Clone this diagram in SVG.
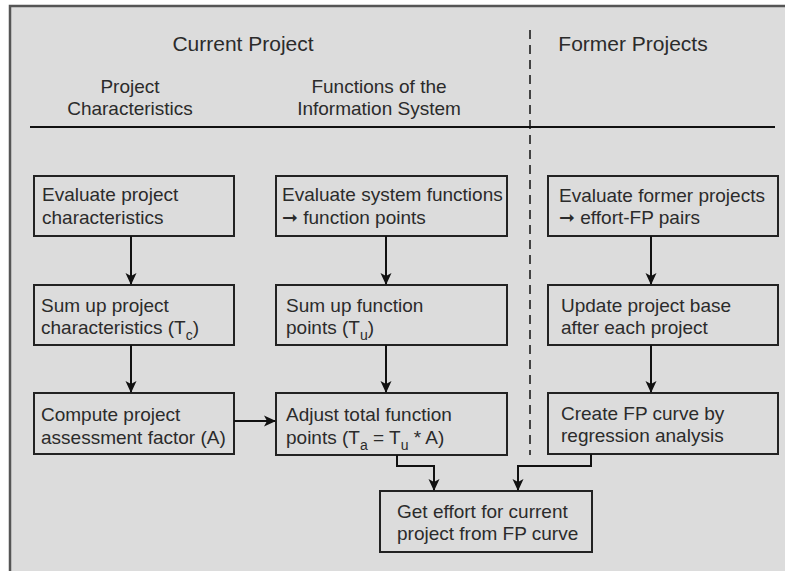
<svg xmlns="http://www.w3.org/2000/svg" width="785" height="571" viewBox="0 0 785 571">
  <style>
    .bg { fill: #dcdcdc; }
    .frame { fill: none; stroke: #555; stroke-width: 2.5; }
    .box { fill: #dcdcdc; stroke: #222; stroke-width: 2; }
    .t { font-family: "Liberation Sans", Arial, sans-serif; font-size: 19px; fill: #2b2b2b; }
    .h1 { font-family: "Liberation Sans", Arial, sans-serif; font-size: 21px; fill: #2b2b2b; }
    .sub { font-size: 14px; }
    .conn { fill: none; stroke: #111; stroke-width: 2; }
    .rule { stroke: #111; stroke-width: 1.8; }
    .dash { stroke: #111; stroke-width: 1.5; stroke-dasharray: 9 6; }
  </style>
  <defs>
    <marker id="arrow" viewBox="0 0 12 12" refX="11" refY="6" markerWidth="12" markerHeight="12" markerUnits="userSpaceOnUse" orient="auto">
      <path d="M0,0.5 L12,6 L0,11.5 L3,6 z" fill="#111"/>
    </marker>
  </defs>

  <rect x="0" y="0" width="785" height="571" fill="#ffffff"/>
  <rect class="bg" x="10" y="6" width="775" height="565"/>
  <path class="frame" d="M10,571 V6 H785"/>

  <!-- column headings -->
  <g id="headings">
    <text class="h1" x="243" y="51" text-anchor="middle">Current Project</text>
    <text class="h1" x="633" y="51" text-anchor="middle">Former Projects</text>
    <text class="t" x="130" y="93" text-anchor="middle">Project</text>
    <text class="t" x="130" y="115" text-anchor="middle">Characteristics</text>
    <text class="t" x="379" y="93" text-anchor="middle">Functions of the</text>
    <text class="t" x="379" y="115" text-anchor="middle">Information System</text>
    <line class="rule" x1="30" y1="127" x2="775" y2="127"/>
    <line class="dash" x1="530" y1="30" x2="530" y2="455"/>
  </g>

  <!-- left column -->
  <g id="eval-proj-char">
    <rect class="box" x="34" y="176" width="200" height="60"/>
    <text class="t" x="42" y="201">Evaluate project</text>
    <text class="t" x="42" y="224">characteristics</text>
  </g>
  <g id="sum-proj-char">
    <rect class="box" x="34" y="285" width="200" height="60"/>
    <text class="t" x="41" y="312">Sum up project</text>
    <text class="t" x="41" y="334">characteristics (T<tspan class="sub" dy="6">c</tspan><tspan dy="-6">)</tspan></text>
  </g>
  <g id="compute-factor">
    <rect class="box" x="34" y="393" width="200" height="61"/>
    <text class="t" x="41" y="421">Compute project</text>
    <text class="t" x="41" y="444">assessment factor (A)</text>
  </g>

  <!-- middle column -->
  <g id="eval-sys-func">
    <rect class="box" x="276" y="176" width="231" height="60"/>
    <text class="t" x="282" y="201">Evaluate system functions</text>
    <text class="t" x="282" y="224">➞ function points</text>
  </g>
  <g id="sum-func-points">
    <rect class="box" x="276" y="285" width="231" height="60"/>
    <text class="t" x="286" y="312">Sum up function</text>
    <text class="t" x="286" y="334">points (T<tspan class="sub" dy="6">u</tspan><tspan dy="-6">)</tspan></text>
  </g>
  <g id="adjust-func-points">
    <rect class="box" x="276" y="393" width="231" height="62"/>
    <text class="t" x="286" y="421">Adjust total function</text>
    <text class="t" x="286" y="444">points (T<tspan class="sub" dy="6">a</tspan><tspan dy="-6"> = T</tspan><tspan class="sub" dy="6">u</tspan><tspan dy="-6"> * A)</tspan></text>
  </g>

  <!-- right column -->
  <g id="eval-former">
    <rect class="box" x="548" y="176" width="230" height="60"/>
    <text class="t" x="559" y="202">Evaluate former projects</text>
    <text class="t" x="559" y="224">➞ effort-FP pairs</text>
  </g>
  <g id="update-base">
    <rect class="box" x="548" y="285" width="230" height="60"/>
    <text class="t" x="561" y="312">Update project base</text>
    <text class="t" x="561" y="334">after each project</text>
  </g>
  <g id="fp-curve">
    <rect class="box" x="548" y="393" width="230" height="61"/>
    <text class="t" x="561" y="420">Create FP curve by</text>
    <text class="t" x="561" y="442">regression analysis</text>
  </g>

  <!-- result -->
  <g id="get-effort">
    <rect class="box" x="380" y="491" width="212" height="61"/>
    <text class="t" x="397" y="518">Get effort for current</text>
    <text class="t" x="397" y="540">project from FP curve</text>
  </g>

  <!-- connectors -->
  <g id="connectors">
    <line class="conn" x1="131" y1="236" x2="131" y2="284" marker-end="url(#arrow)"/>
    <line class="conn" x1="131" y1="345" x2="131" y2="392" marker-end="url(#arrow)"/>
    <line class="conn" x1="386" y1="236" x2="386" y2="284" marker-end="url(#arrow)"/>
    <line class="conn" x1="386" y1="345" x2="386" y2="392" marker-end="url(#arrow)"/>
    <line class="conn" x1="651" y1="236" x2="651" y2="284" marker-end="url(#arrow)"/>
    <line class="conn" x1="651" y1="345" x2="651" y2="392" marker-end="url(#arrow)"/>
    <line class="conn" x1="234" y1="421" x2="275" y2="421" marker-end="url(#arrow)"/>
    <path class="conn" d="M397,455 V466 H434 V490" marker-end="url(#arrow)"/>
    <path class="conn" d="M591,454 V466 H518 V490" marker-end="url(#arrow)"/>
  </g>
</svg>
